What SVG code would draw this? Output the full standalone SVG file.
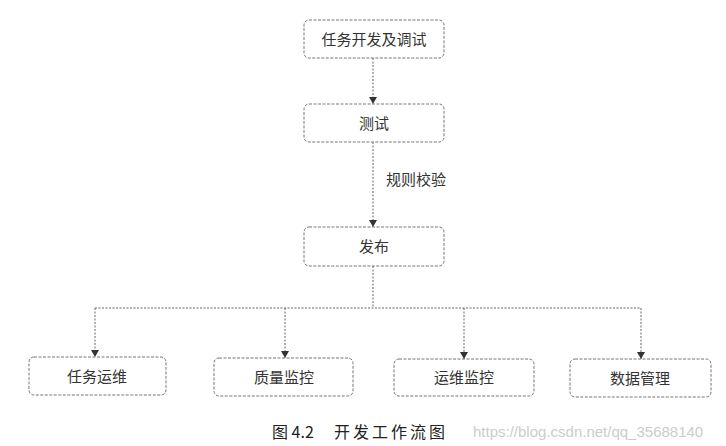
<svg xmlns="http://www.w3.org/2000/svg" width="726" height="446" viewBox="0 0 726 446">
<style>
.box{fill:#fff;stroke:#777;stroke-width:1;stroke-dasharray:3 1.5}
.t{font-family:"Noto Sans CJK SC",sans-serif;font-size:15px;fill:#333;text-anchor:middle}
.c{fill:none;stroke:#666;stroke-width:1;stroke-dasharray:2 1.5}
</style>
<defs><marker id="a" markerWidth="7" markerHeight="8" refX="7" refY="4" orient="auto" markerUnits="userSpaceOnUse" viewBox="0 0 7 8"><path d="M0,0L7,4L0,8z" fill="#333"/></marker></defs>
<rect width="726" height="446" fill="#fff"/>
<g id="connectors">
<path class="c" d="M373,58V104" marker-end="url(#a)"/>
<path class="c" d="M373,142V227" marker-end="url(#a)"/>
<path class="c" d="M373,266V308"/>
<path class="c" d="M95,308H641"/>
<path class="c" d="M95,308V357" marker-end="url(#a)"/>
<path class="c" d="M285,308V358" marker-end="url(#a)"/>
<path class="c" d="M464,308V359" marker-end="url(#a)"/>
<path class="c" d="M641,308V359" marker-end="url(#a)"/>
<text class="t" x="416" y="185">规则校验</text>
</g>
<g id="n1"><rect class="box" x="304" y="20" width="140" height="38" rx="5"/><text class="t" x="374" y="45">任务开发及调试</text></g>
<g id="n2"><rect class="box" x="304" y="104" width="140" height="38" rx="5"/><text class="t" x="374" y="129">测试</text></g>
<g id="n3"><rect class="box" x="304" y="227" width="140" height="39" rx="5"/><text class="t" x="374" y="252">发布</text></g>
<g id="n4"><rect class="box" x="29" y="357" width="137" height="38" rx="5"/><text class="t" x="97" y="382">任务运维</text></g>
<g id="n5"><rect class="box" x="214" y="358" width="139" height="38" rx="5"/><text class="t" x="284" y="383">质量监控</text></g>
<g id="n6"><rect class="box" x="394" y="359" width="140" height="37" rx="5"/><text class="t" x="464" y="383">运维监控</text></g>
<g id="n7"><rect class="box" x="570" y="359" width="141" height="38" rx="5"/><text class="t" x="640" y="384">数据管理</text></g>
<text x="272" y="438" style="font-family:'Noto Sans CJK SC',serif;font-size:16px;fill:#222">图 4.2</text>
<text x="334" y="438" style="font-family:'Noto Sans CJK SC',serif;font-size:16px;fill:#222;letter-spacing:3px">开发工作流图</text>
<text x="473" y="437" style="font-family:'Liberation Sans',sans-serif;font-size:15px;fill:#ccc">https://blog.csdn.net/qq_35688140</text>
</svg>
